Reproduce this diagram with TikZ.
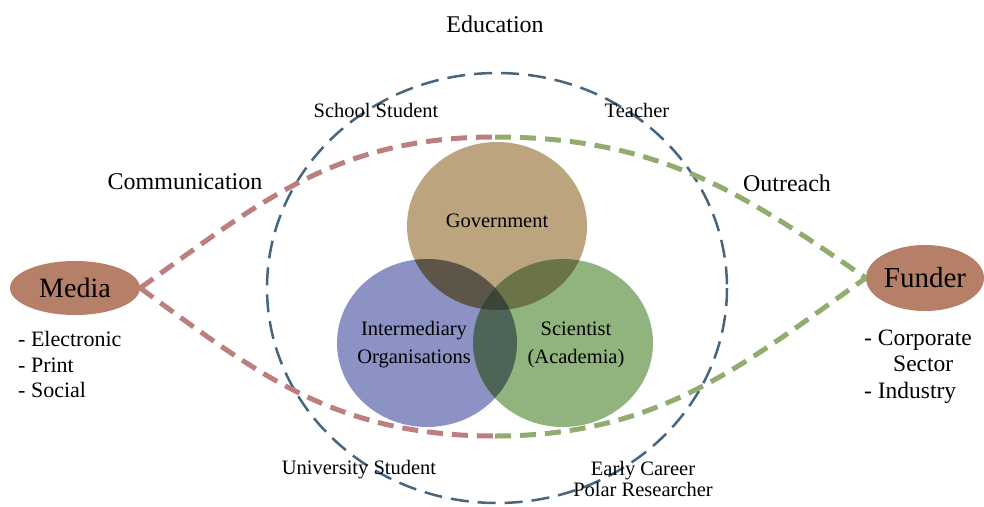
\documentclass[tikz,border=0pt]{standalone}
\usepackage{fontspec}
\setmainfont{Liberation Serif}
\usetikzlibrary{shapes.geometric}

% palette
\definecolor{govfill}{HTML}{BCA47F}
\definecolor{intfill}{HTML}{8C92C4}
\definecolor{scifill}{HTML}{91B47E}
\definecolor{govint}{HTML}{5D5648}
\definecolor{govsci}{HTML}{6B7446}
\definecolor{intsci}{HTML}{4D6456}
\definecolor{allthree}{HTML}{3B4638}
\definecolor{edublue}{HTML}{48657E}
\definecolor{commred}{HTML}{BC7F7E}
\definecolor{outgreen}{HTML}{91AC6E}
\definecolor{actor}{HTML}{B67F68}

\begin{document}
\begin{tikzpicture}[x=1pt,y=-1pt,
  lbl/.style={inner sep=0pt, anchor=base},
  lbllist/.style={inner sep=0pt, anchor=base west, font=\fontsize{22}{26}\selectfont},
  actorbox/.style={ellipse, fill=actor, inner sep=0pt},
  edudash/.style={draw=edublue, line width=2.5pt, dash pattern=on 18pt off 9pt},
  commdash/.style={draw=commred, line width=5pt, dash pattern=on 16pt off 9pt},
  outdash/.style={draw=outgreen, line width=5pt, dash pattern=on 16pt off 9pt},
  big/.style={font=\fontsize{24}{28}\selectfont},
  mid/.style={font=\fontsize{20.5}{24}\selectfont}]
\useasboundingbox (0,0) rectangle (984,506);

% education ring
\draw[edudash] (497,288) ellipse [x radius=230, y radius=215];

% three overlapping sectors
\fill[govfill] (497,226) ellipse [x radius=90, y radius=84];
\fill[intfill] (427,343) ellipse [x radius=90, y radius=84];
\fill[scifill] (563,343) ellipse [x radius=90, y radius=84];
\begin{scope}
  \clip (497,226) ellipse [x radius=90, y radius=84];
  \fill[govint] (427,343) ellipse [x radius=90, y radius=84];
  \fill[govsci] (563,343) ellipse [x radius=90, y radius=84];
\end{scope}
\begin{scope}
  \clip (427,343) ellipse [x radius=90, y radius=84];
  \fill[intsci] (563,343) ellipse [x radius=90, y radius=84];
\end{scope}
\begin{scope}
  \clip (497,226) ellipse [x radius=90, y radius=84];
  \clip (427,343) ellipse [x radius=90, y radius=84];
  \fill[allthree] (563,343) ellipse [x radius=90, y radius=84];
\end{scope}

% actors
\node[actorbox, minimum width=130pt, minimum height=54pt] (media) at (75,288)
  {\fontsize{28}{30}\selectfont Media};
\node[actorbox, minimum width=118pt, minimum height=66pt] (funder) at (925,278)
  {\fontsize{29}{31}\selectfont Funder};

% communication / outreach lens
\coordinate (lenstop) at (495,137);
\coordinate (lensbot) at (495,436);
\draw[commdash] (media.east) .. controls (258,204) and (335,137) .. (lenstop);
\draw[commdash] (media.east) .. controls (258,374) and (335,436) .. (lensbot);
\draw[outdash] (lenstop) .. controls (660,137) and (744,194) .. (funder.west);
\draw[outdash] (lensbot) .. controls (660,436) and (744,364) .. (funder.west);

% headings
\node[lbl, big] (edu) at (495,32) {Education};
\node[lbl, big] (comm) at (185,189) {Communication};
\node[lbl, big] (outr) at (787,191) {Outreach};

% ring labels
\node[lbl, mid] (school) at (376,117) {School Student};
\node[lbl, mid] (teacher) at (637,117) {Teacher};
\node[lbl, mid] (univ) at (359,474) {University Student};
\node[lbl, mid] (early) at (643,475) {Early Career};
\node[lbl, mid] (polar) at (643,496) {Polar Researcher};

% sector labels
\node[lbl, mid] (gov) at (497,227) {Government};
\node[lbl, mid] (inter1) at (414,335) {Intermediary};
\node[lbl, mid] (inter2) at (414,363) {Organisations};
\node[lbl, mid] (sci1) at (576,335) {Scientist};
\node[lbl, mid] (sci2) at (576,363) {(Academia)};

% actor sub-lists
\node[lbllist] (m1) at (18,346) {- Electronic};
\node[lbllist] (m2) at (18,372) {- Print};
\node[lbllist] (m3) at (18,397) {- Social};
\node[lbllist, font=\fontsize{23.5}{26}\selectfont] (f1) at (864,345) {- Corporate};
\node[lbllist, font=\fontsize{23.5}{26}\selectfont] (f2) at (893,371) {Sector};
\node[lbllist, font=\fontsize{23.5}{26}\selectfont] (f3) at (864,398) {- Industry};
\end{tikzpicture}
\end{document}
